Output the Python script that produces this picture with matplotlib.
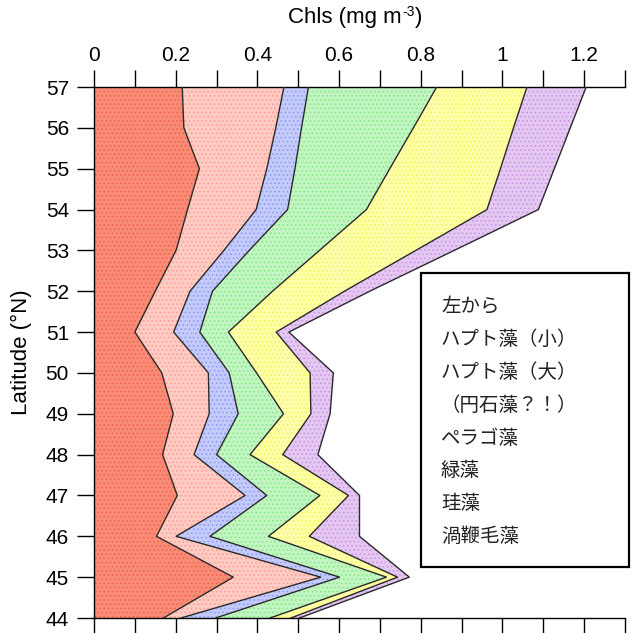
import numpy as np
import matplotlib
matplotlib.use("Agg")
import matplotlib.pyplot as plt
from matplotlib.patches import Rectangle
from matplotlib.transforms import offset_copy

# ---- data ----
latitude = [57, 56, 55, 54, 53, 52, 51, 50, 49, 48, 47, 46, 45, 44]
hapto_small = [0.216, 0.220, 0.258, 0.229, 0.201, 0.150, 0.100, 0.166, 0.194, 0.168, 0.204, 0.153, 0.341, 0.170]
hapto_large = [0.249, 0.225, 0.165, 0.168, 0.117, 0.085, 0.095, 0.114, 0.088, 0.077, 0.166, 0.048, 0.214, 0.043]
pelago = [0.060, 0.063, 0.069, 0.077, 0.062, 0.055, 0.064, 0.051, 0.071, 0.055, 0.053, 0.083, 0.046, 0.085]
green_algae = [0.314, 0.274, 0.232, 0.193, 0.172, 0.147, 0.070, 0.067, 0.111, 0.082, 0.130, 0.143, 0.115, 0.133]
diatoms = [0.221, 0.245, 0.271, 0.295, 0.236, 0.176, 0.117, 0.131, 0.067, 0.080, 0.070, 0.100, 0.027, 0.051]
dinoflag = [0.145, 0.139, 0.132, 0.126, 0.094, 0.062, 0.031, 0.057, 0.047, 0.086, 0.027, 0.123, 0.029, 0.021]

legend_lines = ["左から", "ハプト藻（小）", "ハプト藻（大）", "（円石藻？！）",
                "ペラゴ藻", "緑藻", "珪藻", "渦鞭毛藻"]
x_ticks = [0, 0.2, 0.4, 0.6, 0.8, 1.0, 1.2]
x_ticklabels = ["0", "0.2", "0.4", "0.6", "0.8", "1", "1.2"]
y_ticks = list(range(44, 58))

series = [hapto_small, hapto_large, pelago, green_algae, diatoms, dinoflag]
fills = ["#f98c77", "#ffcbc3", "#c4cbfb", "#c2f5c2", "#ffffaa", "#e4c8f2"]
dots = ["#f0604a", "#ff9a90", "#8a98f5", "#7ee87e", "#f2f25a", "#c890e6"]

plt.rcParams['font.family'] = ['Liberation Sans', 'DejaVu Sans']
plt.rcParams['hatch.linewidth'] = 0.6

fig = plt.figure(figsize=(6.34, 6.33), dpi=100)
ax = fig.add_axes([94/634, 1-618/633, (625-94)/634, (618-87)/633])

lat = np.array(latitude, dtype=float)
left = np.zeros(len(lat))
for vals, fc, dc in zip(series, fills, dots):
    right = left + np.array(vals)
    ax.fill_betweenx(lat, left, right, facecolor=fc, edgecolor=dc,
                     hatch='....', linewidth=0, zorder=1)
    ax.plot(right, lat, color='#2a2a2a', lw=1.0, zorder=3)
    left = right

ax.set_xlim(0, 1.3)
ax.set_ylim(44, 57)

ax.xaxis.set_ticks_position('top')
ax.set_xticks(x_ticks)
ax.set_xticklabels(x_ticklabels)
ax.set_xticks(np.arange(0, 1.31, 0.1), minor=True)
ax.set_yticks(y_ticks)
ax.tick_params(axis='x', which='both', direction='out', length=12, width=1,
               top=True, bottom=True, labeltop=True, labelbottom=False,
               labelsize=15, pad=4)
ax.tick_params(axis='y', which='both', direction='out', length=12, width=1,
               left=True, right=False, labelsize=15, pad=6)
for sp in ['top', 'bottom', 'left']:
    ax.spines[sp].set_linewidth(1.0)
ax.spines['right'].set_visible(False)

# x label "Chls (mg m-3)" with small superscript built from pieces
renderer = fig.canvas.get_renderer()
base_y = 1 - 18/633
t1 = fig.text(0, base_y, "Chls (mg m", ha='left', va='center', fontsize=16)
w1 = t1.get_window_extent(renderer).width
t2 = fig.text(0, base_y, "-3", ha='left', va='center', fontsize=10)
w2 = t2.get_window_extent(renderer).width
t3 = fig.text(0, base_y, ")", ha='left', va='center', fontsize=16)
w3 = t3.get_window_extent(renderer).width
total = w1 + w2 + 1 + w3
x0 = 355 - total / 2
t1.set_x(x0 / 634)
t2.set_x((x0 + w1 + 0.5) / 634)
t2.set_y(base_y + 6/633)
t3.set_x((x0 + w1 + w2 + 1) / 634)

fig.text(21/634, 1-352/633, "Latitude (°N)", ha='center', va='center',
         rotation=90, fontsize=16)

# legend-like text box
fig.patches.append(Rectangle((421/634, 1-567/633), (629-421)/634, (567-273)/633,
                             transform=fig.transFigure, facecolor='white',
                             edgecolor='black', lw=1.6, zorder=5))
y0, dy = 307, 32.8
for i, t in enumerate(legend_lines):
    fig.text(441/634, 1-(y0 + i*dy)/633, t, ha='left', va='center', fontsize=14,
             family=['Noto Sans CJK JP', 'DejaVu Sans'], color='#222222', zorder=6)

fig.savefig("out.png", dpi=100)
